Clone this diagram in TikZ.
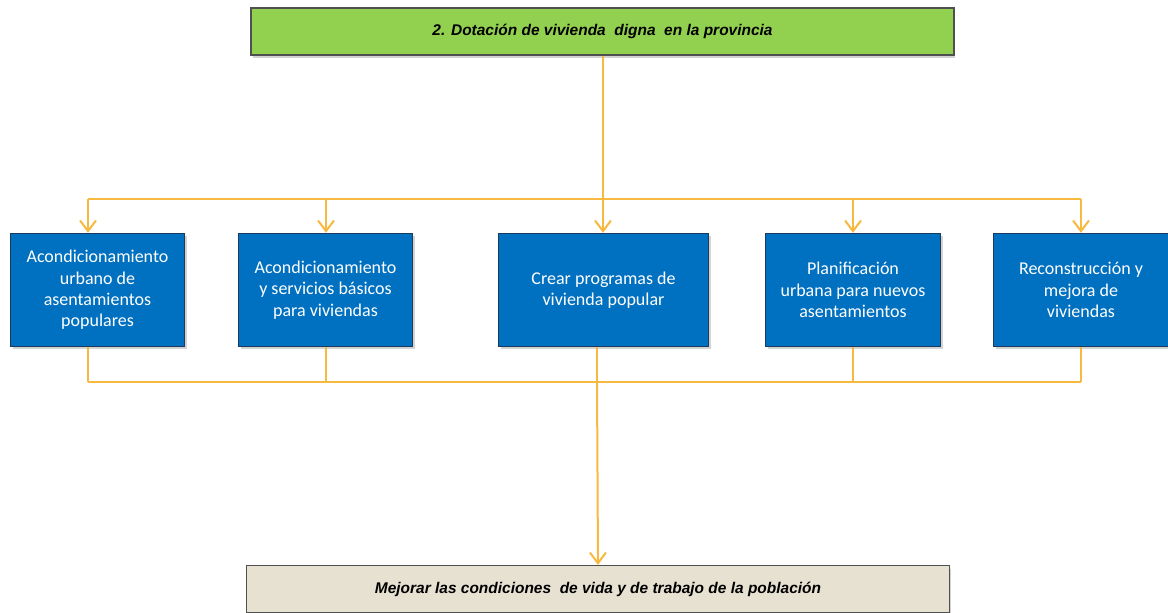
\documentclass[tikz,border=0pt]{standalone}
\usepackage{fontspec}
\setmainfont{Carlito}
\newfontfamily\arialfont{Liberation Sans}
\usetikzlibrary{arrows.meta, shadows}
\definecolor{verdeobj}{HTML}{92D050}
\definecolor{azulcaja}{HTML}{0070C0}
\definecolor{azulborde}{HTML}{1B3A5E}
\definecolor{beigemeta}{HTML}{E7E1D1}
\definecolor{grisborde}{HTML}{505050}
\definecolor{naranjalinea}{HTML}{F7B940}

\begin{document}
\begin{tikzpicture}[x=0.75pt, y=-0.75pt,
  caja/.style={draw=azulborde, line width=0.8pt, fill=azulcaja, text=white,
    minimum width=131pt, minimum height=85pt, inner sep=2pt, align=center,
    font=\fontsize{13.5}{16}\selectfont,
    drop shadow={shadow xshift=1.8pt, shadow yshift=-2pt, opacity=0.35}},
  titulo/.style={draw=grisborde, line width=1.2pt, minimum width=527pt,
    minimum height=35pt, font=\arialfont\bfseries\itshape\fontsize{11.6}{13}\selectfont,
    drop shadow={shadow xshift=1pt, shadow yshift=-2.5pt, opacity=0.35}},
  linea/.style={draw=naranjalinea, line width=1.5pt},
  flecha/.style={linea, -{Straight Barb[length=8pt, width=12pt]}}]
  \useasboundingbox (0,0) rectangle (1168,612);

  \node[titulo, fill=verdeobj] (obj) at (602.5,31.5) {2. Dotación de vivienda\ \ digna\ \ en la provincia};

  \node[caja] (c1) at (97.5,290) {Acondicionamiento\\urbano de\\asentamientos\\populares};
  \node[caja] (c2) at (325.5,290) {Acondicionamiento\\y servicios básicos\\para viviendas};
  \node[caja, minimum width=158pt] (c3) at (603.5,290) {Crear programas de\\vivienda popular};
  \node[caja] (c4) at (853,290) {Planificación\\urbana para nuevos\\asentamientos};
  \node[caja] (c5) at (1081,290) {Reconstrucción y\\mejora de\\viviendas};

  \node[titulo, fill=beigemeta] (meta) at (598,589) {Mejorar las condiciones\ \ de vida y de trabajo de la población};

  \coordinate (a1) at (88,199);
  \coordinate (a2) at (326,199);
  \coordinate (a3) at (603,199);
  \coordinate (a4) at (853,199);
  \coordinate (a5) at (1081,199);
  \coordinate (b1) at (88,382);
  \coordinate (b2) at (326,382);
  \coordinate (b3) at (597,382);
  \coordinate (b4) at (853,382);
  \coordinate (b5) at (1081,382);

  \draw[linea] (obj.south -| a3) -- (a3);
  \draw[linea] (a1) -- (a5);
  \draw[flecha] (a1) -- (a1 |- c1.north);
  \draw[flecha] (a2) -- (a2 |- c2.north);
  \draw[flecha] (a3) -- (a3 |- c3.north);
  \draw[flecha] (a4) -- (a4 |- c4.north);
  \draw[flecha] (a5) -- (a5 |- c5.north);

  \draw[linea] (b1 |- c1.south) -- (b1);
  \draw[linea] (b2 |- c2.south) -- (b2);
  \draw[linea] (b3 |- c3.south) -- (b3);
  \draw[linea] (b4 |- c4.south) -- (b4);
  \draw[linea] (b5 |- c5.south) -- (b5);
  \draw[linea] (b1) -- (b5);
  \draw[flecha] (b3) -- (meta.north);
\end{tikzpicture}
\end{document}
